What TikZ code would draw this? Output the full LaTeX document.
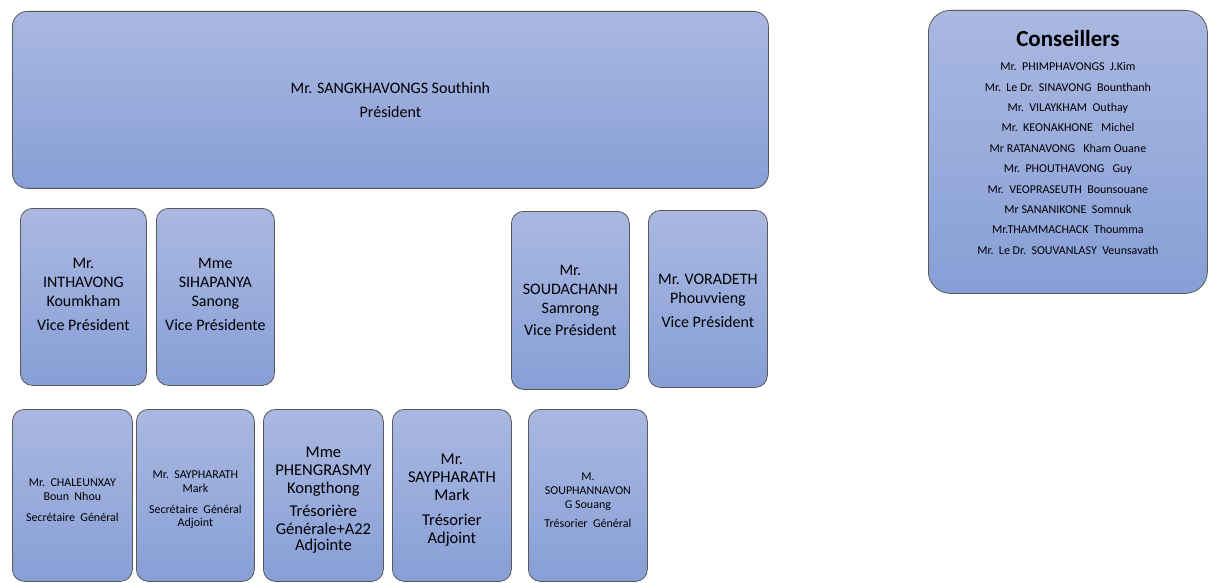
\documentclass[tikz,border=0pt]{standalone}
\usepackage{fontspec}
\setmainfont{Carlito}
\definecolor{boxtop}{RGB}{170,184,225}
\definecolor{boxbot}{RGB}{135,159,214}
\definecolor{boxline}{RGB}{88,88,88}
\tikzset{
  orgbox/.style={draw=boxline,line width=0.8pt,rounded corners=12pt,
    top color=boxtop,bottom color=boxbot,anchor=north west,inner sep=0pt},
  boxtext/.style={align=center,inner sep=0pt},
  bigtext/.style={boxtext,font=\fontsize{16}{19}\selectfont},
  largetext/.style={boxtext,font=\fontsize{16.5}{18}\selectfont},
  smalltext/.style={boxtext,font=\fontsize{12}{14}\selectfont},
}

\begin{document}
\begin{tikzpicture}[x=1pt,y=-1pt]
                \useasboundingbox(0,0)rectangle(1208,583);
                % president
                \node[orgbox,rounded corners=15pt,minimum width=756pt,minimum height=177pt](pres)at(12,11){};
                \node[boxtext,font=\fontsize{16}{18}\selectfont](presText)at(pres.center)
                  {Mr. SANGKHAVONGS Southinh\\[6pt]Président};
                % vice presidents
                \node[orgbox,minimum width=126pt,minimum height=177pt](vp1)at(20,208){};
                \node[bigtext](vp1Text)at([yshift=2pt]vp1.center)
                  {Mr.\\INTHAVONG\\Koumkham\\[5pt]Vice Président};
                \node[orgbox,minimum width=118pt,minimum height=177pt](vp2)at(156,208){};
                \node[bigtext](vp2Text)at([yshift=2pt]vp2.center)
                  {Mme\\SIHAPANYA\\Sanong\\[5pt]Vice Présidente};
                \node[orgbox,minimum width=118pt,minimum height=178pt](vp3)at(511,211){};
                \node[bigtext](vp3Text)at(vp3.center)
                  {Mr.\\SOUDACHANH\\Samrong\\[3pt]Vice Président};
                \node[orgbox,minimum width=119pt,minimum height=177pt](vp4)at(648,210){};
                \node[bigtext](vp4Text)at([yshift=-2pt]vp4.center)
                  {Mr. VORADETH\\Phouvvieng\\[5pt]Vice Président};
                % secretaries and treasurers
                \node[orgbox,minimum width=120pt,minimum height=172pt](sg)at(12,409){};
                \node[smalltext](sgText)at([yshift=-5pt]sg.center)
                  {Mr.~~CHALEUNXAY\\Boun~~Nhou\\[7pt]Secrétaire~~Général};
                \node[orgbox,minimum width=118pt,minimum height=172pt](sga)at(136,409){};
                \node[smalltext](sgaText)at([yshift=-4pt]sga.center)
                  {Mr.~~SAYPHARATH\\Mark\\[7pt]Secrétaire~~Général\\[-1pt]Adjoint};
                \node[orgbox,minimum width=120pt,minimum height=172pt](tga)at(263,409){};
                \node[largetext](tgaText)at([yshift=-5pt]tga.center)
                  {Mme\\PHENGRASMY\\Kongthong\\[5pt]Trésorière\\Générale+A22\\[-2pt]Adjointe};
                \node[orgbox,minimum width=119pt,minimum height=172pt](ta)at(392,409){};
                \node[largetext](taText)at([yshift=-4.5pt]ta.center)
                  {Mr.\\SAYPHARATH\\Mark\\[7pt]Trésorier\\Adjoint};
                \node[orgbox,minimum width=119pt,minimum height=172pt](tg)at(528,409){};
                \node[smalltext](tgText)at([yshift=-5pt]tg.center)
                  {M.\\SOUPHANNAVON\\G~Souang\\[5pt]Trésorier~~Général};
                % advisers
                \node[orgbox,rounded corners=22pt,minimum width=279pt,minimum height=283pt](cons)at(928,10){};
                \node[anchor=north,boxtext,font=\fontsize{12}{20.4}\selectfont](consText)
                  at([yshift=-20pt]cons.north)
                  {{\fontsize{23}{24}\selectfont\bfseries Conseillers}\\[4pt]
                   Mr.~~PHIMPHAVONGS~~J.Kim\\
                   Mr.~~Le Dr.~~SINAVONG~~Bounthanh\\
                   Mr.~~VILAYKHAM~~Outhay\\
                   Mr.~~KEONAKHONE~~~Michel\\
                   Mr~RATANAVONG~~~Kham~Ouane\\
                   Mr.~~PHOUTHAVONG~~~Guy\\
                   Mr.~~VEOPRASEUTH~~Bounsouane\\
                   Mr~SANANIKONE~~Somnuk\\
                   Mr.THAMMACHACK~~Thoumma\\
                   Mr.~~Le Dr.~~SOUVANLASY~~Veunsavath};
            \end{tikzpicture}
\end{document}
